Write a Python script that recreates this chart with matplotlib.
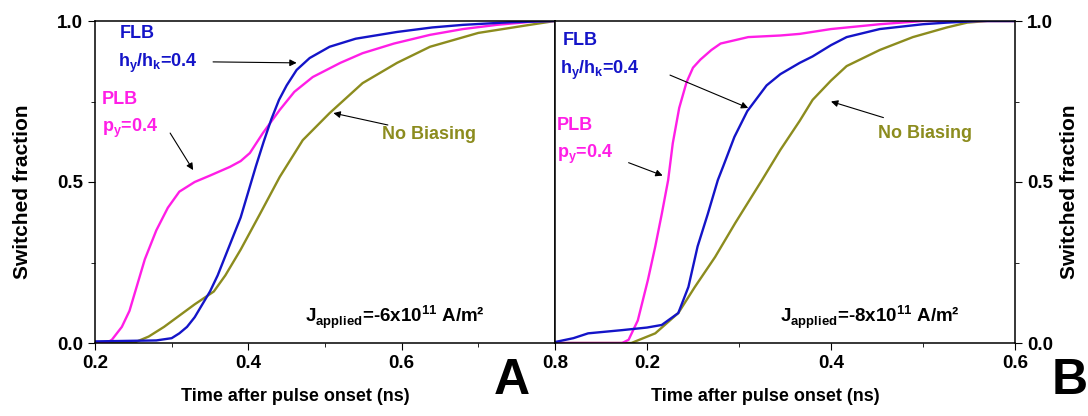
import numpy as np
import matplotlib
matplotlib.use('Agg')
import matplotlib.pyplot as plt

plt.rcParams['font.family'] = ['Liberation Sans', 'DejaVu Sans']
plt.rcParams['font.weight'] = 'bold'
plt.rcParams['mathtext.fontset'] = 'custom'
plt.rcParams['mathtext.rm'] = 'Liberation Sans'
plt.rcParams['mathtext.bf'] = 'Liberation Sans:bold'

# panel A: J = -6e11 A/m^2
tA_plb = [0.2, 0.215, 0.222, 0.235, 0.245, 0.255, 0.265, 0.28, 0.295, 0.31, 0.33, 0.35, 0.376, 0.39,
          0.402, 0.419, 0.441, 0.46, 0.484, 0.52, 0.549, 0.59, 0.637, 0.68, 0.724, 0.78, 0.8]
fA_plb = [0.0, 0.0, 0.01, 0.05, 0.10, 0.18, 0.26, 0.35, 0.42, 0.47, 0.50, 0.52, 0.547, 0.565,
          0.59, 0.652, 0.724, 0.78, 0.826, 0.87, 0.90, 0.93, 0.957, 0.975, 0.988, 1.0, 1.0]
tA_flb = [0.2, 0.28, 0.30, 0.31, 0.32, 0.33, 0.34, 0.35, 0.36, 0.37, 0.38, 0.39, 0.40, 0.41, 0.42,
          0.43, 0.44, 0.45, 0.463, 0.48, 0.506, 0.54, 0.594, 0.64, 0.68, 0.74, 0.8]
fA_flb = [0.005, 0.008, 0.015, 0.03, 0.05, 0.08, 0.12, 0.16, 0.21, 0.27, 0.33, 0.39, 0.47, 0.55, 0.625,
          0.695, 0.755, 0.80, 0.848, 0.885, 0.92, 0.945, 0.966, 0.98, 0.988, 0.996, 1.0]
tA_nb = [0.2, 0.25, 0.27, 0.29, 0.31, 0.33, 0.355, 0.37, 0.39, 0.415, 0.441, 0.471, 0.506, 0.549,
         0.594, 0.637, 0.70, 0.767, 0.8]
fA_nb = [0.0, 0.0, 0.02, 0.05, 0.085, 0.12, 0.16, 0.21, 0.29, 0.40, 0.516, 0.63, 0.714, 0.807,
         0.87, 0.92, 0.963, 0.988, 1.0]

# panel B: J = -8e11 A/m^2
tB_plb = [0.1, 0.173, 0.18, 0.19, 0.201, 0.209, 0.216, 0.223, 0.228, 0.235, 0.243, 0.25, 0.258,
          0.27, 0.28, 0.31, 0.345, 0.366, 0.40, 0.453, 0.5, 0.6]
fB_plb = [0.0, 0.0, 0.01, 0.07, 0.196, 0.30, 0.40, 0.506, 0.62, 0.73, 0.81, 0.855, 0.88,
          0.91, 0.93, 0.95, 0.955, 0.96, 0.975, 0.99, 1.0, 1.0]
tB_flb = [0.1, 0.12, 0.136, 0.173, 0.2, 0.216, 0.234, 0.245, 0.255, 0.266, 0.277, 0.283, 0.295, 0.309,
          0.33, 0.345, 0.366, 0.38, 0.40, 0.417, 0.453, 0.5, 0.526, 0.56, 0.6]
fB_flb = [0.003, 0.015, 0.03, 0.04, 0.048, 0.056, 0.093, 0.174, 0.30, 0.40, 0.506, 0.55, 0.64, 0.72,
          0.80, 0.835, 0.87, 0.89, 0.925, 0.95, 0.975, 0.99, 0.995, 1.0, 1.0]
tB_nb = [0.1, 0.183, 0.209, 0.234, 0.252, 0.274, 0.296, 0.325, 0.345, 0.366, 0.38, 0.40, 0.417,
         0.453, 0.489, 0.526, 0.548, 0.57, 0.6]
fB_nb = [0.0, 0.0, 0.03, 0.093, 0.174, 0.267, 0.373, 0.506, 0.60, 0.69, 0.755, 0.815, 0.86,
         0.91, 0.95, 0.98, 0.995, 1.0, 1.0]

c_flb = '#1414c8'
c_plb = '#ff1ee6'
c_nb = '#8c8c1e'

fig = plt.figure(figsize=(10.88, 4.16), dpi=100)
axA = fig.add_axes([95/1088, 73/416, 460/1088, 322/416])
axB = fig.add_axes([555/1088, 73/416, 460/1088, 322/416])

for ax, data in [(axA, [(tA_nb, fA_nb, c_nb), (tA_plb, fA_plb, c_plb), (tA_flb, fA_flb, c_flb)]),
                 (axB, [(tB_nb, fB_nb, c_nb), (tB_plb, fB_plb, c_plb), (tB_flb, fB_flb, c_flb)])]:
    for t, f, c in data:
        ax.plot(t, f, color=c, lw=1.7)
    ax.set_ylim(0, 1)
    ax.set_yticks([0.0, 0.5, 1.0])
    ax.set_yticks([0.25, 0.75], minor=True)
    ax.tick_params(which='both', direction='out', labelsize=13.5, top=False)
    ax.tick_params(which='major', length=5)
    ax.tick_params(which='minor', length=3)
    for s in ax.spines.values():
        s.set_linewidth(1.1)
    ax.set_xlabel('Time after pulse onset (ns)', fontsize=13, fontweight='bold')
    ax.set_ylabel('Switched fraction', fontsize=15, fontweight='bold')

axA.set_xlim(0.2, 0.8)
axA.set_xticks([0.2, 0.4, 0.6, 0.8])
axA.set_xticks([0.3, 0.5, 0.7], minor=True)
axA.set_yticklabels(['0.0', '0.5', '1.0'])
axA.tick_params(which='both', right=False)
axA.xaxis.set_label_coords(0.435, -0.14)
axA.yaxis.set_label_coords(-0.137, 0.47)

axB.set_xlim(0.1, 0.6)
axB.set_xticks([0.2, 0.4, 0.6])
axB.set_xticks([0.1, 0.3, 0.5], minor=True)
axB.yaxis.tick_right()
axB.yaxis.set_label_position('right')
axB.set_yticklabels(['0.0', '0.5', '1.0'])
axB.tick_params(which='both', left=False)
axB.xaxis.set_label_coords(0.457, -0.14)
axB.yaxis.set_label_coords(1.098, 0.47)
axB.yaxis.label.set_rotation(90)

arw = dict(arrowstyle='-|>', color='black', lw=0.8, mutation_scale=10, shrinkA=0, shrinkB=0)
hk = r'h$_\mathbf{y}$/h$_\mathbf{k}$=0.4'
py = r'p$_\mathbf{y}$=0.4'
fs = 13

# panel A labels
axA.text(0.232, 0.962, 'FLB', color=c_flb, fontsize=fs, va='center')
axA.text(0.230, 0.868, hk, color=c_flb, fontsize=fs, va='center')
axA.annotate('', xy=(0.463, 0.87), xytext=(0.354, 0.873), arrowprops=arw)
axA.text(0.209, 0.755, 'PLB', color=c_plb, fontsize=fs, va='center')
axA.text(0.209, 0.665, py, color=c_plb, fontsize=fs, va='center')
axA.annotate('', xy=(0.328, 0.537), xytext=(0.298, 0.652), arrowprops=arw)
axA.text(0.574, 0.646, 'No Biasing', color=c_nb, fontsize=fs, va='center')
axA.annotate('', xy=(0.511, 0.714), xytext=(0.582, 0.677), arrowprops=arw)
axA.text(0.474, 0.08, r'J$_{\mathrm{applied}}$=-6x10$^{\mathbf{11}}$ A/m²', fontsize=13.5, va='center')

# panel B labels
axB.text(0.108, 0.94, 'FLB', color=c_flb, fontsize=fs, va='center')
axB.text(0.105, 0.848, hk, color=c_flb, fontsize=fs, va='center')
axB.annotate('', xy=(0.310, 0.73), xytext=(0.225, 0.832), arrowprops=arw)
axB.text(0.102, 0.677, 'PLB', color=c_plb, fontsize=fs, va='center')
axB.text(0.102, 0.587, py, color=c_plb, fontsize=fs, va='center')
axB.annotate('', xy=(0.217, 0.52), xytext=(0.18, 0.56), arrowprops=arw)
axB.text(0.451, 0.652, 'No Biasing', color=c_nb, fontsize=fs, va='center')
axB.annotate('', xy=(0.40, 0.75), xytext=(0.457, 0.70), arrowprops=arw)
axB.text(0.345, 0.08, r'J$_{\mathrm{applied}}$=-8x10$^{\mathbf{11}}$ A/m²', fontsize=13.5, va='center')

fig.text(512/1088, 0.085, 'A', fontsize=36, fontweight='bold', ha='center', va='center')
fig.text(1070/1088, 0.085, 'B', fontsize=36, fontweight='bold', ha='center', va='center')

fig.savefig('out.png', dpi=100)
